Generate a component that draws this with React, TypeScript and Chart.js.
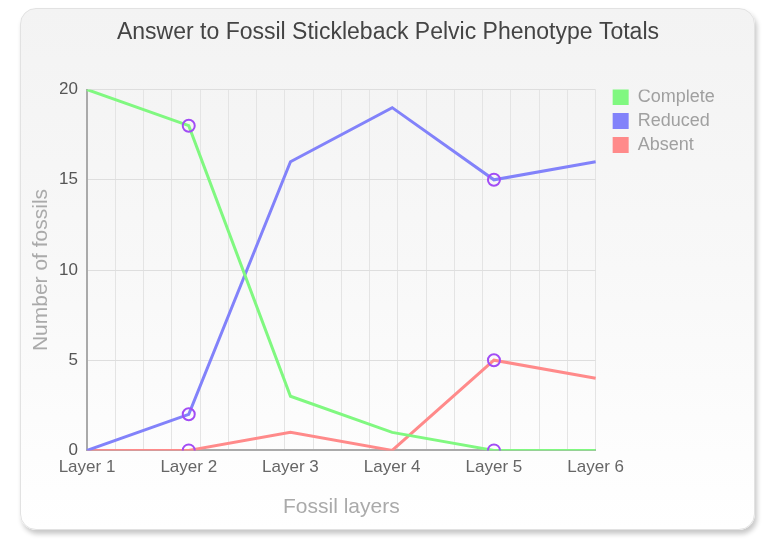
import React, { useEffect, useRef } from "react";
import { Chart, registerables } from "chart.js";

Chart.register(...registerables);

const categories = ["Layer 1", "Layer 2", "Layer 3", "Layer 4", "Layer 5", "Layer 6"];
const completeValues = [20, 18, 3, 1, 0, 0];
const reducedValues = [0, 2, 16, 19, 15, 16];
const absentValues = [0, 0, 1, 0, 5, 4];
const markedPoints = [0, 6, 0, 0, 6, 0];
const titleText = "Answer to Fossil Stickleback Pelvic Phenotype Totals";
const xTitle = "Fossil layers";
const yTitle = "Number of fossils";

const FONT = "'Liberation Sans', Arial, Helvetica, sans-serif";
const PAD_R = 54;
const PAD_L = 60;

export default function App() {
  const ref = useRef<HTMLCanvasElement | null>(null);

  useEffect(() => {
    document.body.style.margin = "0";
    const canvas = ref.current;
    if (!canvas) return;
    const mk = (label: string, data: number[], color: string) => ({
      label,
      data,
      borderColor: color,
      backgroundColor: color,
      borderWidth: 3,
      tension: 0,
      fill: false,
      pointRadius: markedPoints,
      pointHoverRadius: markedPoints,
      pointBorderColor: "#a24cf5",
      pointBackgroundColor: "rgba(0,0,0,0)",
      pointBorderWidth: 2,
      xAxisID: "x",
      yAxisID: "y",
    });
    const chart = new Chart(canvas, {
      type: "line",
      data: {
        labels: categories,
        datasets: [
          mk("Complete", completeValues, "#80f880"),
          mk("Reduced", reducedValues, "#8282fa"),
          mk("Absent", absentValues, "#ff8a8a"),
        ],
      },
      options: {
        responsive: false,
        animation: false,
        layout: { padding: { left: PAD_L, right: PAD_R, top: 9, bottom: 20 } },
        plugins: {
          title: {
            display: true,
            text: titleText,
            color: "#444",
            font: { family: FONT, size: 23, weight: "normal" },
            padding: { top: 10, bottom: 43 },
          },
          legend: {
            display: true,
            position: "right",
            align: "start",
            fullSize: false,
            title: {
              display: true,
              text: "",
              font: { size: 1 },
              padding: { top: -8.7, bottom: 0 },
            },
            labels: {
              color: "#a0a0a0",
              font: { family: FONT, size: 18 },
              boxWidth: 16,
              boxHeight: 16,
              padding: 6,
              generateLabels: (c: any) =>
                c.data.datasets.map((d: any, i: number) => ({
                  text: d.label,
                  fillStyle: d.borderColor,
                  strokeStyle: d.borderColor,
                  lineWidth: 0,
                  hidden: false,
                  datasetIndex: i,
                  fontColor: "#a0a0a0",
                })),
            },
          },
          tooltip: { enabled: false },
        },
        scales: {
          x: {
            type: "category",
            offset: false,
            grid: { display: false, drawTicks: false },
            border: { display: true, color: "#aaa", width: 2 },
            ticks: {
              color: "#666",
              font: { family: FONT, size: 17 },
              padding: 7,
              maxRotation: 0,
            },
            title: {
              display: true,
              text: xTitle,
              color: "#aaa",
              font: { family: FONT, size: 21 },
              padding: { top: 10, bottom: 4 },
            },
            afterFit: (s: any) => {
              s.paddingLeft = 0;
              s.paddingRight = 0;
            },
          },
          x2: {
            type: "linear",
            position: "top",
            min: 0,
            max: 18,
            ticks: { display: false, stepSize: 1 },
            grid: { display: true, color: "#e4e4e4", lineWidth: 1, drawTicks: false },
            border: { display: false },
          },
          y: {
            min: 0,
            max: 20,
            ticks: {
              stepSize: 5,
              color: "#555",
              font: { family: FONT, size: 17 },
              padding: 9,
            },
            grid: { color: "#dedede", lineWidth: 1, drawTicks: false },
            border: { display: true, color: "#aaa", width: 2 },
            title: {
              display: true,
              text: yTitle,
              color: "#aaa",
              font: { family: FONT, size: 21 },
              padding: { top: -31.6, bottom: -3.5 },
            },
          },
          yR: {
            type: "linear",
            position: "right",
            min: 0,
            max: 20,
            ticks: { display: false },
            grid: { display: false, drawTicks: false },
            border: { display: false },
            afterFit: (s: any) => {
              s.width = 11;
            },
          },
        },
      },
    } as any);
    return () => chart.destroy();
  }, []);

  return (
    <div style={{ position: "fixed", left: 0, top: 0, width: 770, height: 544, background: "#fff" }}>
      <div
        style={{
          position: "absolute",
          left: 20,
          top: 8,
          width: 735,
          height: 522,
          borderRadius: 16,
          background: "linear-gradient(to bottom, #f3f3f3 0%, #f8f8f8 50%, #ffffff 100%)",
          border: "1px solid #e2e2e2",
          boxShadow: "2px 4px 5px rgba(0,0,0,0.22)",
          boxSizing: "border-box",
        }}
      />
      <canvas
        ref={ref}
        width={770}
        height={544}
        style={{ position: "absolute", left: 0, top: 0, width: 770, height: 544 }}
      />
    </div>
  );
}
